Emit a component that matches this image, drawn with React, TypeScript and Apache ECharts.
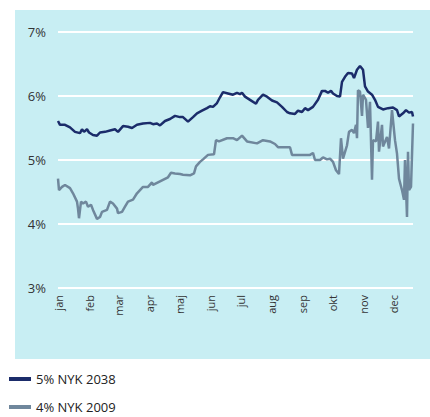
import React, { useEffect, useRef } from "react";
import * as echarts from "echarts";

// x = day of year (0 = 1 Jan), y = yield in %
const monthLabels = ["jan", "feb", "mar", "apr", "maj", "jun", "jul", "aug", "sep", "okt", "nov", "dec"];
const monthStartDays = [0, 31, 60, 91, 121, 152, 182, 213, 244, 274, 305, 335];
const yTicks = [3, 4, 5, 6, 7];
const seriesNames = ["5% NYK 2038", "4% NYK 2009"];

const nyk2038: [number, number][] = [
  [0, 5.61], [2, 5.55], [7, 5.55], [12, 5.51], [17, 5.44], [22, 5.42], [24, 5.48], [26, 5.44],
  [29, 5.48], [31, 5.43], [35, 5.39], [39, 5.38], [42, 5.43], [47, 5.44], [52, 5.46], [57, 5.48],
  [60, 5.44], [65, 5.53], [70, 5.52], [74, 5.5], [79, 5.55], [85, 5.57], [92, 5.58], [95, 5.56],
  [99, 5.57], [102, 5.54], [107, 5.61], [112, 5.64], [117, 5.69], [122, 5.67], [125, 5.67],
  [130, 5.6], [135, 5.67], [139, 5.73], [144, 5.77], [149, 5.81], [152, 5.84], [155, 5.83],
  [159, 5.89], [162, 5.98], [165, 6.06], [170, 6.04], [175, 6.02], [179, 6.05], [182, 6.03],
  [184, 6.05], [187, 5.99], [192, 5.94], [198, 5.88], [200, 5.94], [205, 6.02], [209, 5.99],
  [214, 5.93], [219, 5.9], [224, 5.83], [229, 5.75], [232, 5.73], [237, 5.72], [240, 5.77],
  [244, 5.75], [247, 5.81], [250, 5.78], [255, 5.83], [260, 5.94], [264, 6.08], [267, 6.08],
  [270, 6.05], [273, 6.08], [275, 6.04], [279, 6.0], [282, 5.99], [284, 6.22], [287, 6.3],
  [290, 6.36], [294, 6.35], [296, 6.28], [299, 6.41], [302, 6.47], [305, 6.41], [307, 6.15],
  [310, 6.07], [314, 6.02], [317, 5.94], [320, 5.83], [325, 5.79], [330, 5.81], [335, 5.82],
  [339, 5.78], [341, 5.68], [345, 5.73], [348, 5.78], [351, 5.74], [354, 5.75], [355, 5.68],
];

const nyk2009: [number, number][] = [
  [0, 4.71], [1, 4.53], [4, 4.58], [7, 4.61], [12, 4.56], [15, 4.48], [19, 4.35], [20, 4.24],
  [21, 4.09], [23, 4.35], [25, 4.32], [28, 4.35], [30, 4.27], [33, 4.3], [35, 4.22], [39, 4.08],
  [42, 4.11], [44, 4.19], [49, 4.22], [52, 4.35], [55, 4.32], [59, 4.24], [60, 4.17], [64, 4.19],
  [67, 4.27], [70, 4.35], [75, 4.38], [79, 4.48], [82, 4.53], [85, 4.58], [90, 4.58], [94, 4.65],
  [95, 4.61], [100, 4.65], [105, 4.69], [110, 4.73], [113, 4.8], [117, 4.79], [122, 4.78],
  [125, 4.77], [132, 4.76], [136, 4.79], [138, 4.9], [142, 4.97], [145, 5.01], [150, 5.08],
  [156, 5.09], [158, 5.31], [161, 5.29], [169, 5.34], [175, 5.34], [179, 5.31], [184, 5.38],
  [189, 5.29], [199, 5.26], [205, 5.31], [212, 5.29], [217, 5.25], [220, 5.2], [232, 5.2],
  [234, 5.08], [252, 5.08], [255, 5.11], [257, 5.0], [262, 5.0], [265, 5.04], [269, 5.01],
  [272, 5.02], [275, 4.97], [278, 4.84], [281, 4.78], [283, 5.34], [285, 5.02], [289, 5.23],
  [291, 5.44], [294, 5.47], [296, 5.42], [298, 5.55], [299, 5.34], [300, 6.09], [302, 6.07],
  [304, 5.69], [305, 6.02], [308, 5.94], [310, 5.5], [312, 5.91], [314, 4.69], [315, 5.31],
  [318, 5.29], [320, 5.6], [321, 5.13], [324, 5.55], [325, 5.21], [329, 5.36], [331, 5.18],
  [334, 5.78], [337, 5.31], [339, 5.1], [341, 4.71], [344, 4.53], [346, 4.38], [347, 5.0],
  [349, 4.11], [350, 5.13], [351, 4.53], [353, 4.58], [355, 5.57],
];

const NAVY = "#1b2c6a";
const GREY = "#6f879c";
const FONT = "'Open Sans', 'Noto Sans', sans-serif";

const legendBase = {
  left: 9,
  padding: 0,
  itemWidth: 22,
  itemHeight: 4,
  itemGap: 0,
  icon: "rect",
  textStyle: { fontFamily: FONT, fontSize: 13, color: "#222", lineHeight: 14 },
};

export default function App() {
  const ref = useRef<HTMLDivElement>(null);

  useEffect(() => {
    if (!ref.current) return;
    const chart = echarts.init(ref.current, undefined, { renderer: "svg" });
    chart.setOption({
      animation: false,
      backgroundColor: "#ffffff",
      graphic: [
        {
          type: "rect",
          silent: true,
          z: -10,
          shape: { x: 15, y: 10, width: 415, height: 349 },
          style: { fill: "#c8eef3" },
        },
      ],
      grid: { left: 58, right: 17, top: 32, bottom: 129 },
      legend: [
        { ...legendBase, top: 372, data: [seriesNames[0]] },
        { ...legendBase, top: 400, data: [seriesNames[1]] },
      ],
      xAxis: {
        type: "value",
        min: 0,
        max: 355,
        axisLine: { show: false },
        axisTick: { show: false },
        splitLine: { show: false },
        axisLabel: {
          customValues: monthStartDays,
          rotate: 90,
          margin: 7,
          fontFamily: FONT,
          fontSize: 11,
          color: "#333",
          formatter: (v: number) => {
            const i = monthStartDays.indexOf(v);
            return i >= 0 ? monthLabels[i] : "";
          },
        },
      },
      yAxis: {
        type: "value",
        min: yTicks[0],
        max: yTicks[yTicks.length - 1],
        interval: 1,
        axisLine: { show: false },
        axisTick: { show: false },
        splitLine: { lineStyle: { color: "#ffffff", width: 2 } },
        axisLabel: {
          margin: 12,
          fontFamily: FONT,
          fontSize: 13,
          color: "#333",
          formatter: "{value}%",
        },
      },
      series: [
        {
          name: seriesNames[0],
          type: "line",
          data: nyk2038,
          showSymbol: false,
          symbol: "none",
          color: NAVY,
          lineStyle: { color: NAVY, width: 2.5 },
          z: 3,
        },
        {
          name: seriesNames[1],
          type: "line",
          data: nyk2009,
          showSymbol: false,
          symbol: "none",
          color: GREY,
          lineStyle: { color: GREY, width: 2.5 },
          z: 2,
        },
      ],
    });
    return () => chart.dispose();
  }, []);

  return (
    <div
      ref={ref}
      style={{ position: "absolute", left: 0, top: 0, width: 430, height: 417 }}
    />
  );
}
